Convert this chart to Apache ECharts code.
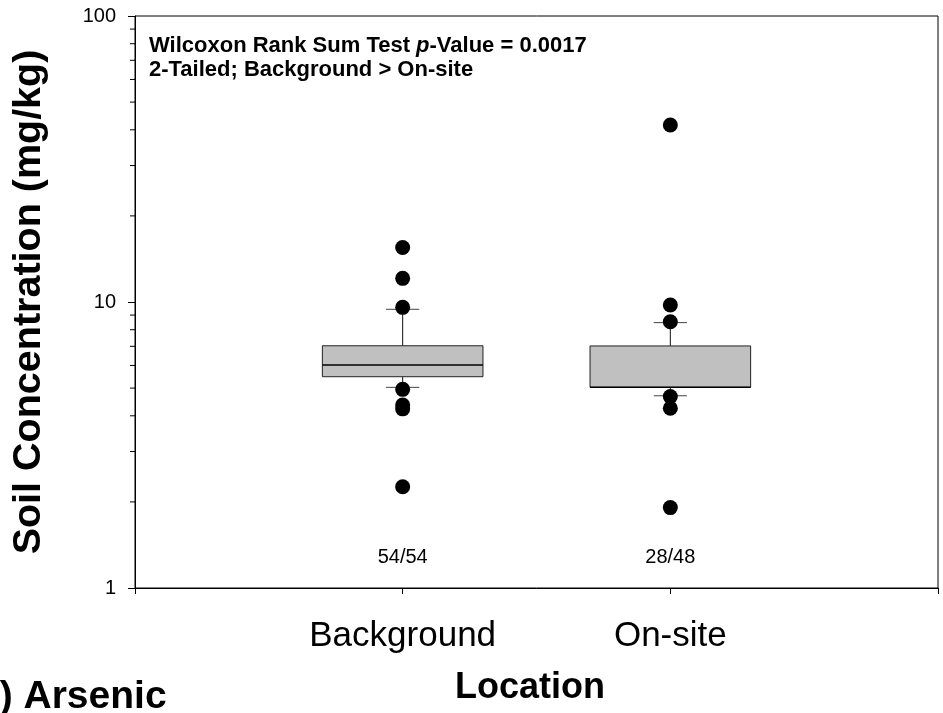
<!DOCTYPE html>
<html><head><meta charset="utf-8">
<script src="https://cdn.jsdelivr.net/npm/echarts@6/dist/echarts.min.js"></script>
<style>html,body{margin:0;padding:0;background:#fff}#c{width:943px;height:713px}</style>
</head><body><div id="c"></div>
<script>
const categories = ['Background', 'On-site'];
// [lower whisker, Q1, median, Q3, upper whisker]
const boxBackground = [5.03, 5.48, 6.02, 7.03, 9.43];
const boxOnsite = [4.70, 5.03, 5.03, 7.02, 8.47];
const outliersBackground = [15.5, 12.1, 9.58, 4.95, 4.36, 4.23, 2.26];
const outliersOnsite = [41.6, 9.76, 8.53, 4.67, 4.25, 1.91];
const detectCounts = ['54/54', '28/48'];
const minorTickValues = [2, 3, 4, 5, 6, 7, 8, 9, 20, 30, 40, 50, 60, 70, 80, 90];

const FONT = "'Liberation Sans', Arial, Helvetica, sans-serif";
const chart = echarts.init(document.getElementById('c'), null, {renderer: 'canvas'});

const boxData = [[1].concat(boxBackground), [2].concat(boxOnsite)];
const outlierData = outliersBackground.map(v => [1, v]).concat(outliersOnsite.map(v => [2, v]));
const countData = detectCounts.map((t, i) => [i + 1, 1.28, t]);
const minorData = minorTickValues.map(v => [0, v]);

const option = {
  animation: false,
  backgroundColor: '#fff',
  grid: {left: 135, right: 5, top: 16, bottom: 125, show: true, borderColor: '#000', borderWidth: 1},
  xAxis: {
    type: 'value', min: 0, max: 3, interval: 1,
    axisLine: {lineStyle: {color: '#000', width: 1}},
    axisTick: {show: true, length: 6, lineStyle: {color: '#000'}},
    splitLine: {show: false},
    axisLabel: {
      margin: 31, fontSize: 35, fontFamily: FONT, color: '#000',
      formatter: v => categories[v - 1] || ''
    }
  },
  yAxis: {
    type: 'log', logBase: 10, min: 1, max: 100,
    axisLine: {show: true, lineStyle: {color: '#000', width: 1}},
    axisTick: {show: true, length: 7, lineStyle: {color: '#000'}},
    splitLine: {show: false},
    axisLabel: {margin: 19, fontSize: 20, fontFamily: FONT, color: '#000', formatter: v => String(Math.round(v))}
  },
  series: [
    {
      type: 'custom', data: minorData, encode: {x: 0, y: 1}, clip: false, silent: true,
      renderItem: (params, api) => {
        const p = api.coord([api.value(0), api.value(1)]);
        return {type: 'line', shape: {x1: p[0] - 5, y1: p[1], x2: p[0], y2: p[1]}, style: {stroke: '#000', lineWidth: 1}};
      }
    },
    {
      type: 'custom', data: boxData, encode: {x: 0, y: [1, 2, 3, 4, 5]}, silent: true,
      renderItem: (params, api) => {
        const x = api.value(0);
        const pts = [1, 2, 3, 4, 5].map(d => api.coord([x, api.value(d)]));
        const band = api.size([1, 1])[0];
        const hw = band * 0.3, cw = band * 0.062;
        const cx = pts[0][0];
        const yMin = pts[0][1], yQ1 = pts[1][1], yMed = pts[2][1], yQ3 = pts[3][1], yMax = pts[4][1];
        const ls = {stroke: '#111', lineWidth: 1};
        return {type: 'group', children: [
          {type: 'line', shape: {x1: cx, y1: yQ3, x2: cx, y2: yMax}, style: ls},
          {type: 'line', shape: {x1: cx, y1: yQ1, x2: cx, y2: yMin}, style: ls},
          {type: 'line', shape: {x1: cx - cw, y1: yMax, x2: cx + cw, y2: yMax}, style: {stroke: '#444', lineWidth: 1}},
          {type: 'line', shape: {x1: cx - cw, y1: yMin, x2: cx + cw, y2: yMin}, style: {stroke: '#444', lineWidth: 1}},
          {type: 'rect', shape: {x: cx - hw, y: yQ3, width: 2 * hw, height: yQ1 - yQ3}, style: {fill: '#c0c0c0', stroke: '#222', lineWidth: 1}},
          {type: 'line', shape: {x1: cx - hw, y1: yMed, x2: cx + hw, y2: yMed}, style: {stroke: '#000', lineWidth: 1.5}}
        ]};
      }
    },
    {
      type: 'scatter', data: outlierData, symbol: 'circle', symbolSize: 15,
      itemStyle: {color: '#000', opacity: 1}, z: 5, silent: true
    },
    {
      type: 'custom', data: countData, encode: {x: 0, y: 1}, silent: true,
      renderItem: (params, api) => {
        const p = api.coord([api.value(0), api.value(1)]);
        return {type: 'text', x: p[0], y: p[1], style: {text: detectCounts[params.dataIndex], fontSize: 20, fontFamily: FONT, fill: '#000', align: 'center', verticalAlign: 'middle'}};
      }
    }
  ],
  graphic: [
    {type: 'text', left: 149, top: 35, style: {
      text: 'Wilcoxon Rank Sum Test {i|p}-Value = 0.0017', fontSize: 22, fontWeight: 'bold', fontFamily: FONT, fill: '#000',
      rich: {i: {fontStyle: 'italic', fontWeight: 'bold', fontSize: 22, fontFamily: FONT}}
    }},
    {type: 'text', left: 149, top: 59, style: {
      text: '2-Tailed; Background > On-site', fontSize: 22, fontWeight: 'bold', fontFamily: FONT, fill: '#000'
    }},
    {type: 'text', x: 29, y: 302, rotation: Math.PI / 2, style: {
      text: 'Soil Concentration (mg/kg)', fontSize: 39.5, fontWeight: 'bold', fontFamily: FONT, fill: '#000', align: 'center', verticalAlign: 'middle'
    }},
    {type: 'text', x: 530, y: 688, style: {
      text: 'Location', fontSize: 36, fontWeight: 'bold', fontFamily: FONT, fill: '#000', align: 'center', verticalAlign: 'middle'
    }},
    {type: 'text', x: -35, y: 697, style: {
      text: '(a) Arsenic', fontSize: 39, fontWeight: 'bold', fontFamily: FONT, fill: '#000', align: 'left', verticalAlign: 'middle'
    }}
  ]
};
chart.setOption(option);
</script>
</body></html>
